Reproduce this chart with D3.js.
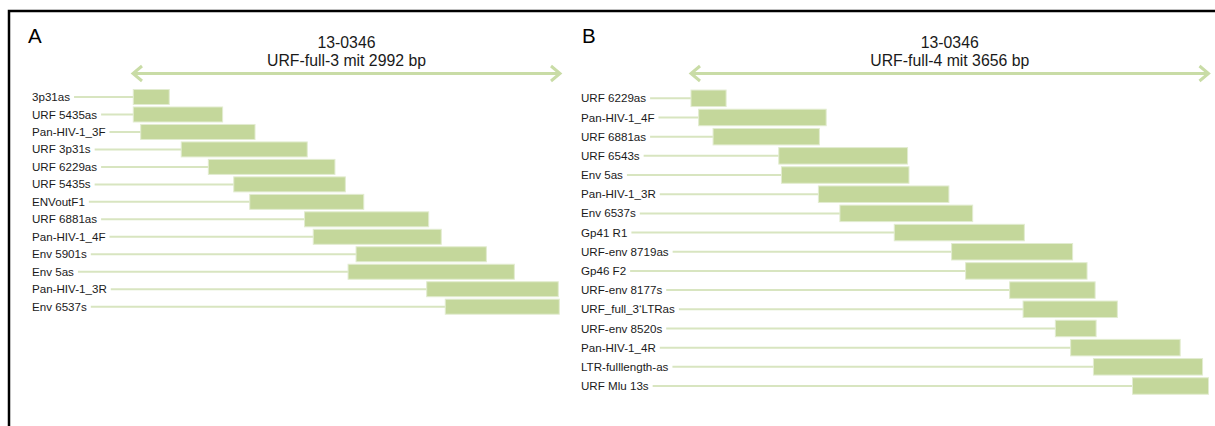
<!DOCTYPE html>
<html>
<head>
<meta charset="utf-8">
<script src="https://cdn.jsdelivr.net/npm/d3@7"></script>
<style>
  html, body { margin: 0; padding: 0; background: #fff; }
  svg { display: block; font-family: "Liberation Sans", Arial, sans-serif; }
</style>
</head>
<body>
<svg id="chart" width="1215" height="426"></svg>
<script>
// ---- Data (positions in bp along each amplicon) ----
const panelALetter = "A";
const panelATitle = ["13-0346", "URF-full-3 mit 2992 bp"];
const panelALength = 2992;
const panelAPrimers = ["3p31as", "URF 5435as", "Pan-HIV-1_3F", "URF 3p31s", "URF 6229as", "URF 5435s", "ENVoutF1", "URF 6881as", "Pan-HIV-1_4F", "Env 5901s", "Env 5as", "Pan-HIV-1_3R", "Env 6537s"];
const panelAStart = [2, 2, 54, 338, 528, 706, 818, 1202, 1263, 1563, 1507, 2058, 2188];
const panelAEnd   = [254, 628, 855, 1221, 1415, 1488, 1617, 2072, 2160, 2476, 2672, 2980, 2987];

const panelBLetter = "B";
const panelBTitle = ["13-0346", "URF-full-4 mit 3656 bp"];
const panelBLength = 3656;
const panelBPrimers = ["URF 6229as", "Pan-HIV-1_4F", "URF 6881as", "URF 6543s", "Env 5as", "Pan-HIV-1_3R", "Env 6537s", "Gp41 R1", "URF-env 8719as", "Gp46 F2", "URF-env 8177s", "URF_full_3\u2018LTRas", "URF-env 8520s", "Pan-HIV-1_4R", "LTR-fulllength-as", "URF Mlu 13s"];
const panelBStart = [0, 54, 156, 620, 639, 900, 1052, 1436, 1841, 1940, 2251, 2346, 2574, 2682, 2843, 3119];
const panelBEnd   = [248, 955, 907, 1530, 1540, 1822, 1990, 2355, 2696, 2798, 2855, 3012, 2862, 3456, 3614, 3656];

// ---- Drawing ----
const svg = d3.select("#chart");
svg.append("rect").attr("width", 1215).attr("height", 426).attr("fill", "#fff");

// frame (top and left edges visible)
svg.append("path")
  .attr("d", "M9,430 L9,11 L1220,11")
  .attr("fill", "none").attr("stroke", "#000").attr("stroke-width", 2.5);

const barFill = "#c4d79b", barStroke = "#e2ecd0", lineColor = "#d8e5c0", arrowColor = "#c9dca6";

function drawPanel(cfg) {
  const g = svg.append("g");
  const x = d3.scaleLinear().domain([0, cfg.length]).range(cfg.xRange);
  const y = d3.scalePoint().domain(cfg.primers).range(cfg.yRange);

  // panel letter
  g.append("text").attr("x", cfg.letterX).attr("y", 43)
    .attr("font-size", 20.5).attr("fill", "#000").text(cfg.letter);

  // title
  const cx = (x(0) + x(cfg.length)) / 2;
  g.append("text").attr("x", cx).attr("y", 47.5).attr("text-anchor", "middle")
    .attr("font-size", 15.8).attr("fill", "#1a1a1a").text(cfg.title[0]);
  g.append("text").attr("x", cx).attr("y", 65.5).attr("text-anchor", "middle")
    .attr("font-size", 15.8).attr("fill", "#1a1a1a").text(cfg.title[1]);

  // double arrow
  const ay = 73.5, x0 = x(0), x1 = x(cfg.length);
  g.append("line").attr("x1", x0 + 1).attr("x2", x1 - 1).attr("y1", ay).attr("y2", ay)
    .attr("stroke", arrowColor).attr("stroke-width", 3);
  const head = (tip, dir) => {
    const p = d3.path();
    p.moveTo(tip - dir * 9, ay - 7.5);
    p.lineTo(tip, ay);
    p.lineTo(tip - dir * 9, ay + 7.5);
    return p.toString();
  };
  g.append("path").attr("d", head(x0, -1)).attr("fill", "none")
    .attr("stroke", arrowColor).attr("stroke-width", 3).attr("stroke-linejoin", "miter");
  g.append("path").attr("d", head(x1, 1)).attr("fill", "none")
    .attr("stroke", arrowColor).attr("stroke-width", 3).attr("stroke-linejoin", "miter");

  const rows = cfg.primers.map((name, i) => ({ name, s: cfg.start[i], e: cfg.end[i] }));

  // labels
  const labels = g.selectAll("text.lab").data(rows).enter().append("text")
    .attr("class", "lab")
    .attr("x", cfg.labelX).attr("y", d => y(d.name)).attr("dy", "0.35em")
    .attr("font-size", 11.6).attr("fill", "#1a1a1a").text(d => d.name);

  // leader lines
  labels.each(function (d) {
    const w = this.getComputedTextLength();
    g.append("line")
      .attr("x1", cfg.labelX + w + 4).attr("x2", x(d.s) + 1)
      .attr("y1", y(d.name)).attr("y2", y(d.name))
      .attr("stroke", lineColor).attr("stroke-width", 2);
  });

  // bars
  g.selectAll("rect.bar").data(rows).enter().append("rect")
    .attr("class", "bar")
    .attr("x", d => x(d.s)).attr("width", d => x(d.e) - x(d.s))
    .attr("y", d => y(d.name) - cfg.barH / 2).attr("height", cfg.barH)
    .attr("fill", barFill).attr("stroke", barStroke).attr("stroke-width", 1);
}

drawPanel({
  letter: panelALetter, title: panelATitle, length: panelALength,
  primers: panelAPrimers, start: panelAStart, end: panelAEnd,
  xRange: [133, 560], yRange: [97, 306.7], barH: 15,
  letterX: 28, labelX: 32
});
drawPanel({
  letter: panelBLetter, title: panelBTitle, length: panelBLength,
  primers: panelBPrimers, start: panelBStart, end: panelBEnd,
  xRange: [691, 1208.5], yRange: [98.3, 386], barH: 16.5,
  letterX: 582, labelX: 581
});
</script>
</body>
</html>
